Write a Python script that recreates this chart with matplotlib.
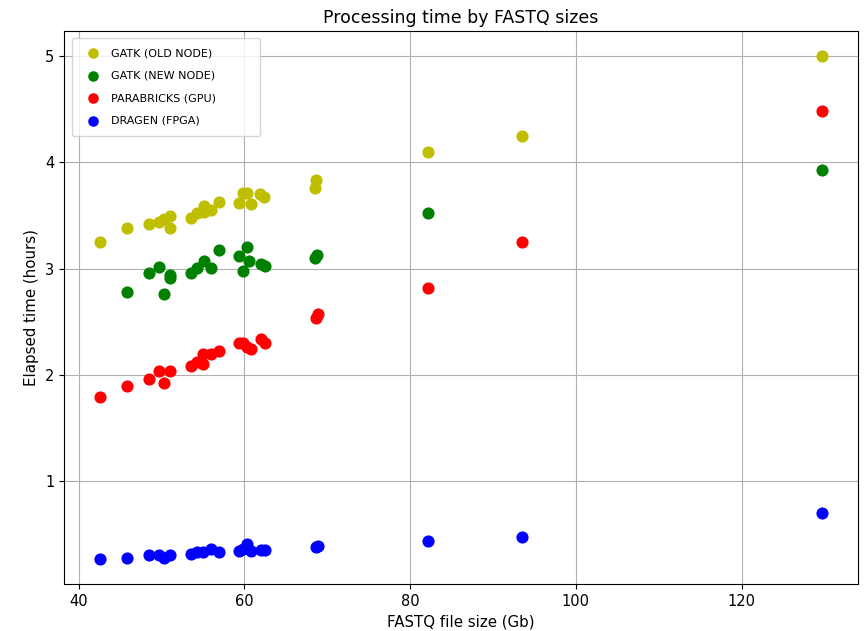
import matplotlib
matplotlib.use("Agg")
import matplotlib.pyplot as plt

# FASTQ sizes (Gb) and elapsed times (hours) per pipeline
x_old = [42.6, 45.8, 48.5, 49.7, 50.3, 51.0, 51.0, 53.6, 54.3, 55.1, 55.1, 56.0, 56.9,
         59.4, 59.8, 60.3, 60.8, 61.9, 62.4, 68.5, 68.7, 82.2, 93.5, 129.7]
y_old = [3.25, 3.38, 3.42, 3.44, 3.47, 3.50, 3.38, 3.48, 3.52, 3.59, 3.53, 3.55, 3.63,
         3.62, 3.71, 3.71, 3.61, 3.70, 3.67, 3.76, 3.83, 4.10, 4.25, 5.00]

x_new = [45.8, 48.5, 49.7, 50.3, 51.0, 51.0, 53.6, 54.3, 55.1, 56.0, 56.9,
         59.4, 59.8, 60.3, 60.6, 62.0, 62.5, 68.5, 68.8, 82.2, 129.7]
y_new = [2.78, 2.96, 3.02, 2.76, 2.94, 2.91, 2.96, 3.01, 3.07, 3.01, 3.18,
         3.12, 2.98, 3.20, 3.07, 3.04, 3.03, 3.10, 3.13, 3.52, 3.93]

x_gpu = [42.6, 45.8, 48.5, 49.7, 50.3, 51.0, 53.6, 54.3, 55.0, 55.0, 56.0, 56.9,
         59.4, 59.9, 60.3, 60.8, 62.0, 62.5, 68.6, 68.9, 82.2, 93.5, 129.7]
y_gpu = [1.79, 1.90, 1.96, 2.04, 1.92, 2.04, 2.08, 2.12, 2.20, 2.10, 2.20, 2.23,
         2.30, 2.30, 2.26, 2.24, 2.34, 2.30, 2.54, 2.57, 2.82, 3.25, 4.48]

x_fpga = [42.6, 45.8, 48.5, 49.7, 50.3, 51.0, 53.6, 54.3, 55.0, 56.0, 56.9,
          59.4, 59.9, 60.3, 60.8, 62.0, 62.5, 68.6, 68.9, 82.2, 93.5, 129.7]
y_fpga = [0.27, 0.28, 0.31, 0.31, 0.28, 0.31, 0.32, 0.33, 0.33, 0.36, 0.33,
          0.34, 0.36, 0.41, 0.34, 0.35, 0.35, 0.38, 0.39, 0.44, 0.48, 0.70]

labels = ["GATK (OLD NODE)", "GATK (NEW NODE)", "PARABRICKS (GPU)", "DRAGEN (FPGA)"]
colors = ["y", "g", "r", "b"]

fig = plt.figure(figsize=(8.66, 6.31), dpi=100)
ax = fig.add_axes([64/866, 1 - 584/631, (858 - 64)/866, (584 - 31)/631])

for xs, ys, lab, c in zip([x_old, x_new, x_gpu, x_fpga], [y_old, y_new, y_gpu, y_fpga], labels, colors):
    ax.scatter(xs, ys, s=60, color=c, label=lab, zorder=3)

ax.set_title("Processing time by FASTQ sizes", fontsize=12.5)
ax.set_xlabel("FASTQ file size (Gb)", fontsize=10.8)
ax.set_ylabel("Elapsed time (hours)", fontsize=10.8)
ax.set_xticks([40, 60, 80, 100, 120])
ax.set_yticks([1, 2, 3, 4, 5])
ax.tick_params(labelsize=10.5)
ax.grid(True, color="#b0b0b0", linewidth=0.8)
ax.legend(loc="upper left", fontsize=8, mode="expand",
          bbox_to_anchor=(0.010, 0.810, 0.237, 0.177), borderaxespad=0,
          borderpad=0.9, labelspacing=1.12, handletextpad=0.6, markerscale=0.85)

fig.savefig("out.png", dpi=100)
